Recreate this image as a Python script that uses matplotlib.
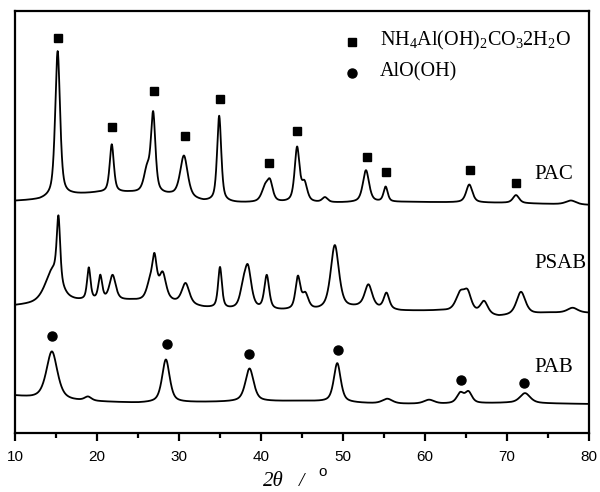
import numpy as np
import matplotlib
matplotlib.use("Agg")
import matplotlib.pyplot as plt

plt.rcParams['mathtext.fontset'] = 'custom'
plt.rcParams['mathtext.rm'] = 'Liberation Serif'
plt.rcParams['mathtext.it'] = 'Liberation Serif:italic'

# peak lists: position (2theta), height, fwhm
pac_pos = [15.2, 21.8, 26.1, 26.85, 30.6, 34.9, 40.5, 41.1, 44.4, 45.3, 47.8, 52.8, 55.2, 65.4, 71.1, 77.8]
pac_h = [146, 48, 22, 78, 42, 86, 14, 18, 54, 18, 5, 32, 15, 18, 8, 4]
pac_w = [0.7, 0.6, 0.9, 0.65, 1.1, 0.6, 1.0, 0.8, 0.7, 0.8, 0.8, 0.9, 0.6, 0.9, 0.9, 1.5]
pac_base_x = [10, 13, 17, 20, 24, 29, 33, 37, 43, 48, 58, 70, 80]
pac_base_y = [232, 233, 238, 240, 240, 237, 231, 230, 230, 230, 231, 230, 228]

psab_pos = [14.6, 15.3, 19.0, 20.4, 21.9, 26.4, 27.0, 28.0, 30.8, 35.0, 37.8, 38.4, 40.7, 44.5, 45.4,
            49.0, 53.1, 55.3, 64.3, 65.2, 67.2, 71.7, 78.0]
psab_h = [32, 64, 32, 24, 25, 14, 40, 27, 21, 41, 15, 40, 34, 32, 15, 64, 23, 16, 18, 18, 13, 23, 5]
psab_w = [2.2, 0.5, 0.5, 0.55, 0.9, 0.9, 0.7, 1.0, 1.1, 0.55, 0.9, 1.0, 0.7, 0.7, 0.9, 1.2, 1.1, 0.8,
          1.3, 1.1, 1.1, 1.3, 1.5]
psab_base_x = [10, 12, 17, 24, 29, 33, 36, 42, 47, 52, 57, 62, 69, 75, 80]
psab_base_y = [127, 128, 131, 132, 130, 125, 123, 122, 122, 125, 122, 122, 116, 120, 120]

pab_pos = [14.5, 18.9, 28.4, 38.6, 49.3, 55.4, 60.5, 64.3, 65.3, 72.2]
pab_h = [48, 4, 43, 33, 39, 5, 4, 10, 11, 10]
pab_w = [1.6, 1.0, 1.1, 1.2, 1.0, 1.5, 1.5, 1.0, 1.0, 1.5]
pab_base_x = [10, 12, 17, 25, 35, 45, 55, 62, 70, 80]
pab_base_y = [37, 35, 32, 30, 31, 32, 29, 29, 30, 29]

# phase markers
sq_x = [15.2, 21.8, 26.9, 30.7, 35.0, 41.0, 44.4, 52.9, 55.2, 65.5, 71.1]
sq_y = [395, 306, 342, 297, 334, 270, 302, 276, 261, 263, 250]
ci_x = [14.5, 28.5, 38.5, 49.4, 64.4, 72.1]
ci_y = [97, 89, 79, 83, 53, 50]

labels = ["PAC", "PSAB", "PAB"]
label_y = [259, 170, 65]


def profile(x, pos, h, w, bx, by):
    y = np.interp(x, bx, by)
    for p, a, f in zip(pos, h, w):
        g = np.exp(-4 * np.log(2) * ((x - p) / f) ** 2)
        l = 1 / (1 + 4 * ((x - p) / f) ** 2)
        y = y + a * (0.4 * g + 0.6 * l)
    return y


x = np.linspace(10, 80, 3501)

fig = plt.figure(figsize=(6, 4.92), dpi=100)
ax = fig.add_axes([15 / 600, 59 / 492, 574 / 600, 422 / 492])

ax.plot(x, profile(x, pac_pos, pac_h, pac_w, pac_base_x, pac_base_y), color="black", lw=1.3)
ax.plot(x, profile(x, psab_pos, psab_h, psab_w, psab_base_x, psab_base_y), color="black", lw=1.3)
ax.plot(x, profile(x, pab_pos, pab_h, pab_w, pab_base_x, pab_base_y), color="black", lw=1.3)

ax.plot(sq_x, sq_y, "s", color="black", ms=6)
ax.plot(ci_x, ci_y, "o", color="black", ms=6.5)

for lab, ly in zip(labels, label_y):
    ax.text(73.3, ly, lab, family="Liberation Serif", fontsize=15, va="center")

# legend
ax.plot([51.1], [391], "s", color="black", ms=6)
ax.plot([51.1], [360], "o", color="black", ms=6.5)
ax.text(54.5, 393, r"NH$_4$Al(OH)$_2$CO$_3$2H$_2$O", family="Liberation Serif", fontsize=14.5, va="center")
ax.text(54.5, 361, "AlO(OH)", family="Liberation Serif", fontsize=14.5, va="center")

ax.set_xlim(10, 80)
ax.set_ylim(0, 422)
ax.set_xticks(range(10, 81, 10))
ax.set_xticks(range(15, 80, 10), minor=True)
ax.set_yticks([])
for s in ax.spines.values():
    s.set_linewidth(1.6)
ax.tick_params(axis="x", which="major", direction="out", length=6, width=1.6, pad=6)
ax.tick_params(axis="x", which="minor", direction="out", length=3.5, width=1.6)
for t in ax.get_xticklabels():
    t.set_family("Liberation Sans")
    t.set_fontsize(11)

fig.text(273 / 600, 1 - 481 / 492, "2θ", family="Liberation Serif", style="italic", fontsize=15,
         ha="center", va="center")
fig.text(302 / 600, 1 - 481 / 492, "/", family="Liberation Serif", style="italic", fontsize=14,
         ha="center", va="center")
fig.text(323 / 600, 1 - 472 / 492, "o", family="Liberation Sans", fontsize=11,
         ha="center", va="center")

fig.savefig("out.png", dpi=100)
